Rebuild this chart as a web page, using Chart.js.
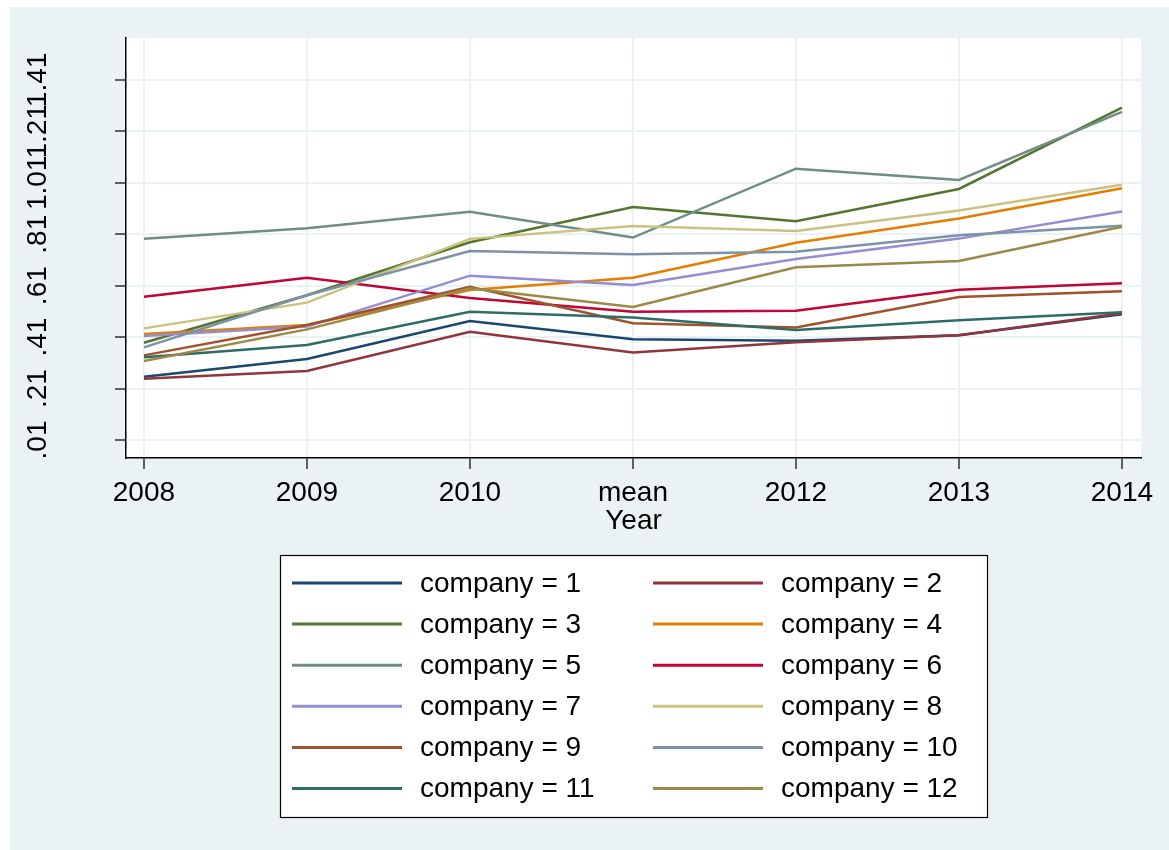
<!DOCTYPE html>
<html lang="en">
<head>
    <meta charset="UTF-8">
    <title>Company by year</title>
    <script src="https://cdn.jsdelivr.net/npm/chart.js@4.4.1/dist/chart.umd.min.js"></script>
    <style>
        body { margin: 0; background: #fff; }
        #wrap { width: 1169px; height: 850px; }
    </style>
</head>
<body>

<div id="wrap"><canvas id="myChart" width="1169" height="850"></canvas></div>

<script>

    // x categories (the 4th slot is labelled "mean" in the original)
    var years = ['2008', '2009', '2010', 'mean', '2012', '2013', '2014'];

    var yTickValues = [0.01, 0.21, 0.41, 0.61, 0.81, 1.01, 1.21, 1.41];
    var yTickLabels = ['.01', '.21', '.41', '.61', '.81', '1.01', '1.21', '1.41'];

    var company1  = [0.256, 0.325, 0.473, 0.402, 0.396, 0.417, 0.499];
    var company2  = [0.248, 0.278, 0.431, 0.350, 0.390, 0.417, 0.503];
    var company3  = [0.388, 0.573, 0.779, 0.916, 0.861, 0.986, 1.302];
    var company4  = [0.422, 0.457, 0.593, 0.641, 0.777, 0.871, 0.989];
    var company5  = [0.792, 0.833, 0.897, 0.797, 1.065, 1.021, 1.286];
    var company6  = [0.567, 0.641, 0.562, 0.509, 0.513, 0.594, 0.619];
    var company7  = [0.414, 0.451, 0.649, 0.613, 0.714, 0.793, 0.898];
    var company8  = [0.444, 0.544, 0.792, 0.842, 0.823, 0.902, 1.002];
    var company9  = [0.339, 0.457, 0.606, 0.464, 0.447, 0.566, 0.588];
    var company10 = [0.370, 0.573, 0.745, 0.732, 0.742, 0.806, 0.843];
    var company11 = [0.332, 0.379, 0.509, 0.486, 0.438, 0.476, 0.507];
    var company12 = [0.317, 0.440, 0.600, 0.527, 0.682, 0.706, 0.839];

    var seriesNames = ['company = 1', 'company = 2', 'company = 3', 'company = 4', 'company = 5', 'company = 6',
        'company = 7', 'company = 8', 'company = 9', 'company = 10', 'company = 11', 'company = 12'];
    var allSeries = [company1, company2, company3, company4, company5, company6,
        company7, company8, company9, company10, company11, company12];

    // stata s2color palette
    var colors = ['#1a476f', '#90353b', '#55752f', '#e37e00', '#6e8e84', '#c10534',
        '#938dd2', '#cac27e', '#a0522d', '#7b92a8', '#2d6d66', '#9c8847'];

    var FONT = '"Liberation Sans", Arial, sans-serif';
    var BG = '#eaf2f3';

    var datasets = [];
    for (var i = 0; i < allSeries.length; i++) {
        datasets.push({
            label: seriesNames[i],
            data: allSeries[i].map(function (v, j) { return {x: j, y: v}; }),
            borderColor: colors[i],
            backgroundColor: colors[i],
            borderWidth: 2.5,
            pointRadius: 0,
            tension: 0,
            fill: false,
            order: allSeries.length - i   // later companies on top, like stata
        });
    }

    var backgroundPlugin = {
        id: 'bg',
        beforeDraw: function (chart) {
            var c = chart.ctx, a = chart.chartArea;
            c.save();
            c.fillStyle = '#ffffff';
            c.fillRect(0, 0, chart.width, chart.height);
            c.fillStyle = BG;
            c.fillRect(10, 7, chart.width - 10, chart.height - 7);
            c.fillStyle = '#ffffff';
            c.fillRect(a.left, a.top, a.right - a.left, a.bottom - a.top);
            c.restore();
        }
    };

    // rotated y labels + boxed two-column legend
    var extrasPlugin = {
        id: 'extras',
        afterDraw: function (chart) {
            var c = chart.ctx;
            var ys = chart.scales.y;
            c.save();
            c.fillStyle = '#000';
            c.font = '28px ' + FONT;
            c.textAlign = 'center';
            c.textBaseline = 'alphabetic';
            for (var k = 0; k < yTickValues.length; k++) {
                var py = ys.getPixelForValue(yTickValues[k]);
                c.save();
                c.translate(46, py);
                c.rotate(-Math.PI / 2);
                c.fillText(yTickLabels[k], 0, 0);
                c.restore();
            }

            // legend box
            var bx = 280, by = 555, bw = 707, bh = 262;
            c.fillStyle = '#ffffff';
            c.fillRect(bx, by, bw, bh);
            c.strokeStyle = '#000';
            c.lineWidth = 1.2;
            c.strokeRect(bx + 0.5, by + 0.5, bw, bh);

            c.textAlign = 'left';
            c.textBaseline = 'middle';
            c.lineWidth = 3;
            chart.data.datasets.forEach(function (ds, idx) {
                var col = idx % 2, row = Math.floor(idx / 2);
                var x0 = col === 0 ? 292 : 653;
                var yy = 583 + row * 41.1;
                c.strokeStyle = ds.borderColor;
                c.beginPath();
                c.moveTo(x0, yy);
                c.lineTo(x0 + 110, yy);
                c.stroke();
                c.fillStyle = '#000';
                c.fillText(ds.label, x0 + 128, yy + 1);
            });
            c.restore();
        }
    };

    var ctx = document.getElementById('myChart');

    var chart = new Chart(ctx, {
        type: 'line',
        data: {datasets: datasets},
        plugins: [backgroundPlugin, extrasPlugin],
        options: {
            responsive: false,
            animation: false,
            layout: {padding: {left: 0, top: 38, right: 28, bottom: 312}},
            plugins: {
                legend: {display: false},
                tooltip: {enabled: false}
            },
            scales: {
                x: {
                    type: 'linear',
                    min: -0.11,
                    max: 6.117,
                    afterBuildTicks: function (scale) {
                        scale.ticks = years.map(function (y, j) { return {value: j}; });
                    },
                    afterFit: function (scale) { scale.height = 80; },
                    ticks: {
                        color: '#000',
                        font: {family: FONT, size: 28},
                        padding: 7,
                        maxRotation: 0,
                        autoSkip: false,
                        callback: function (v) { return years[v]; }
                    },
                    grid: {
                        color: BG,
                        lineWidth: 2,
                        tickColor: '#000',
                        tickLength: 11,
                        tickWidth: 1.2
                    },
                    border: {display: true, color: '#000', width: 1.5},
                    title: {
                        display: true,
                        text: 'Year',
                        color: '#000',
                        font: {family: FONT, size: 28},
                        padding: {top: 0, bottom: 0}
                    }
                },
                y: {
                    type: 'linear',
                    min: -0.06,
                    max: 1.573,
                    afterBuildTicks: function (scale) {
                        scale.ticks = yTickValues.map(function (v) { return {value: v}; });
                    },
                    afterFit: function (scale) { scale.width = 126; },
                    ticks: {display: false},
                    grid: {
                        color: BG,
                        lineWidth: 2,
                        tickColor: '#000',
                        tickLength: 11,
                        tickWidth: 1.2
                    },
                    border: {display: true, color: '#000', width: 1.5}
                }
            }
        }
    });

</script>

</body>
</html>
